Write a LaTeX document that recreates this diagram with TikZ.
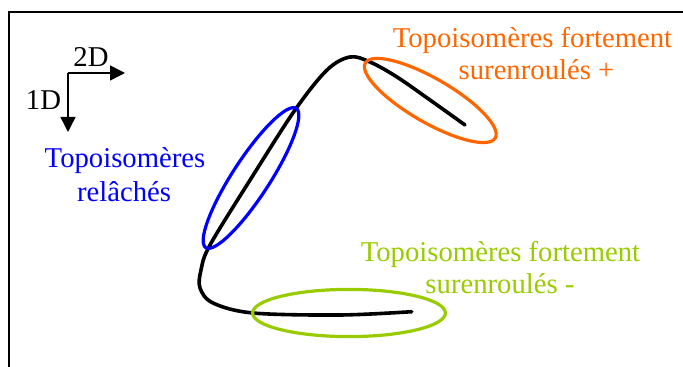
\documentclass[tikz,border=0pt]{standalone}
\usepackage{fontspec}
\setmainfont{Liberation Serif}
\usetikzlibrary{arrows.meta}
\definecolor{myorange}{RGB}{255,102,0}
\definecolor{mygreen}{RGB}{153,204,0}
\definecolor{myblue}{RGB}{0,0,255}
\begin{document}
\begin{tikzpicture}[x=0.5pt,y=-0.5pt,
  lbl/.style={inner sep=0pt,anchor=base,font=\fontsize{14.35pt}{16.5pt}\selectfont},
  frame/.style={line width=0.9pt,black},
  axis/.style={line width=0.75pt,-{Triangle[length=7.5pt,width=7.5pt]}},
  strand/.style={line width=1.8pt,black,line cap=round},
  ring/.style={line width=1.6pt}]
\useasboundingbox (0,0) rectangle (683,367);
% frame (top and left sides)
\draw[frame] (683,12) -- (9,12) -- (9,367);
% axes
\coordinate (o) at (68,73);
\coordinate (xt) at (125,73);
\coordinate (yt) at (68,132);
\draw[axis] (o) -- (xt);
\draw[axis] (o) -- (yt);
\node[lbl] (l2d) at (91,67) {2D};
\node[lbl] (l1d) at (43.5,110) {1D};
% strand
\draw[strand] plot[smooth,tension=0.55] coordinates {(411.7,311.7) (340,315) (253,313) (213,303) (200,288) (201,270) (210,245) (252,177) (295,110) (327,70) (350,57) (370,62) (397,77) (430,100) (465,125)};
% ellipses
\draw[ring,myblue,rotate around={57:(251,178)}] (251,178) ellipse [x radius=41.5pt,y radius=9.3pt];
\draw[ring,myorange,rotate around={-30:(430.3,100.5)}] (430.3,100.5) ellipse [x radius=37.5pt,y radius=11pt];
\draw[ring,mygreen] (349,313) ellipse [x radius=48.2pt,y radius=11.8pt];
% labels
\node[lbl,myorange] (oa) at (532.5,48) {Topoisomères fortement};
\node[lbl,myorange] (ob) at (536.5,80) {surenroulés +};
\node[lbl,myblue] (ba) at (125,168) {Topoisomères};
\node[lbl,myblue] (bb) at (124,202) {relâchés};
\node[lbl,mygreen] (ga) at (500.5,262) {Topoisomères fortement};
\node[lbl,mygreen] (gb) at (500,293) {surenroulés -};
\end{tikzpicture}
\end{document}
